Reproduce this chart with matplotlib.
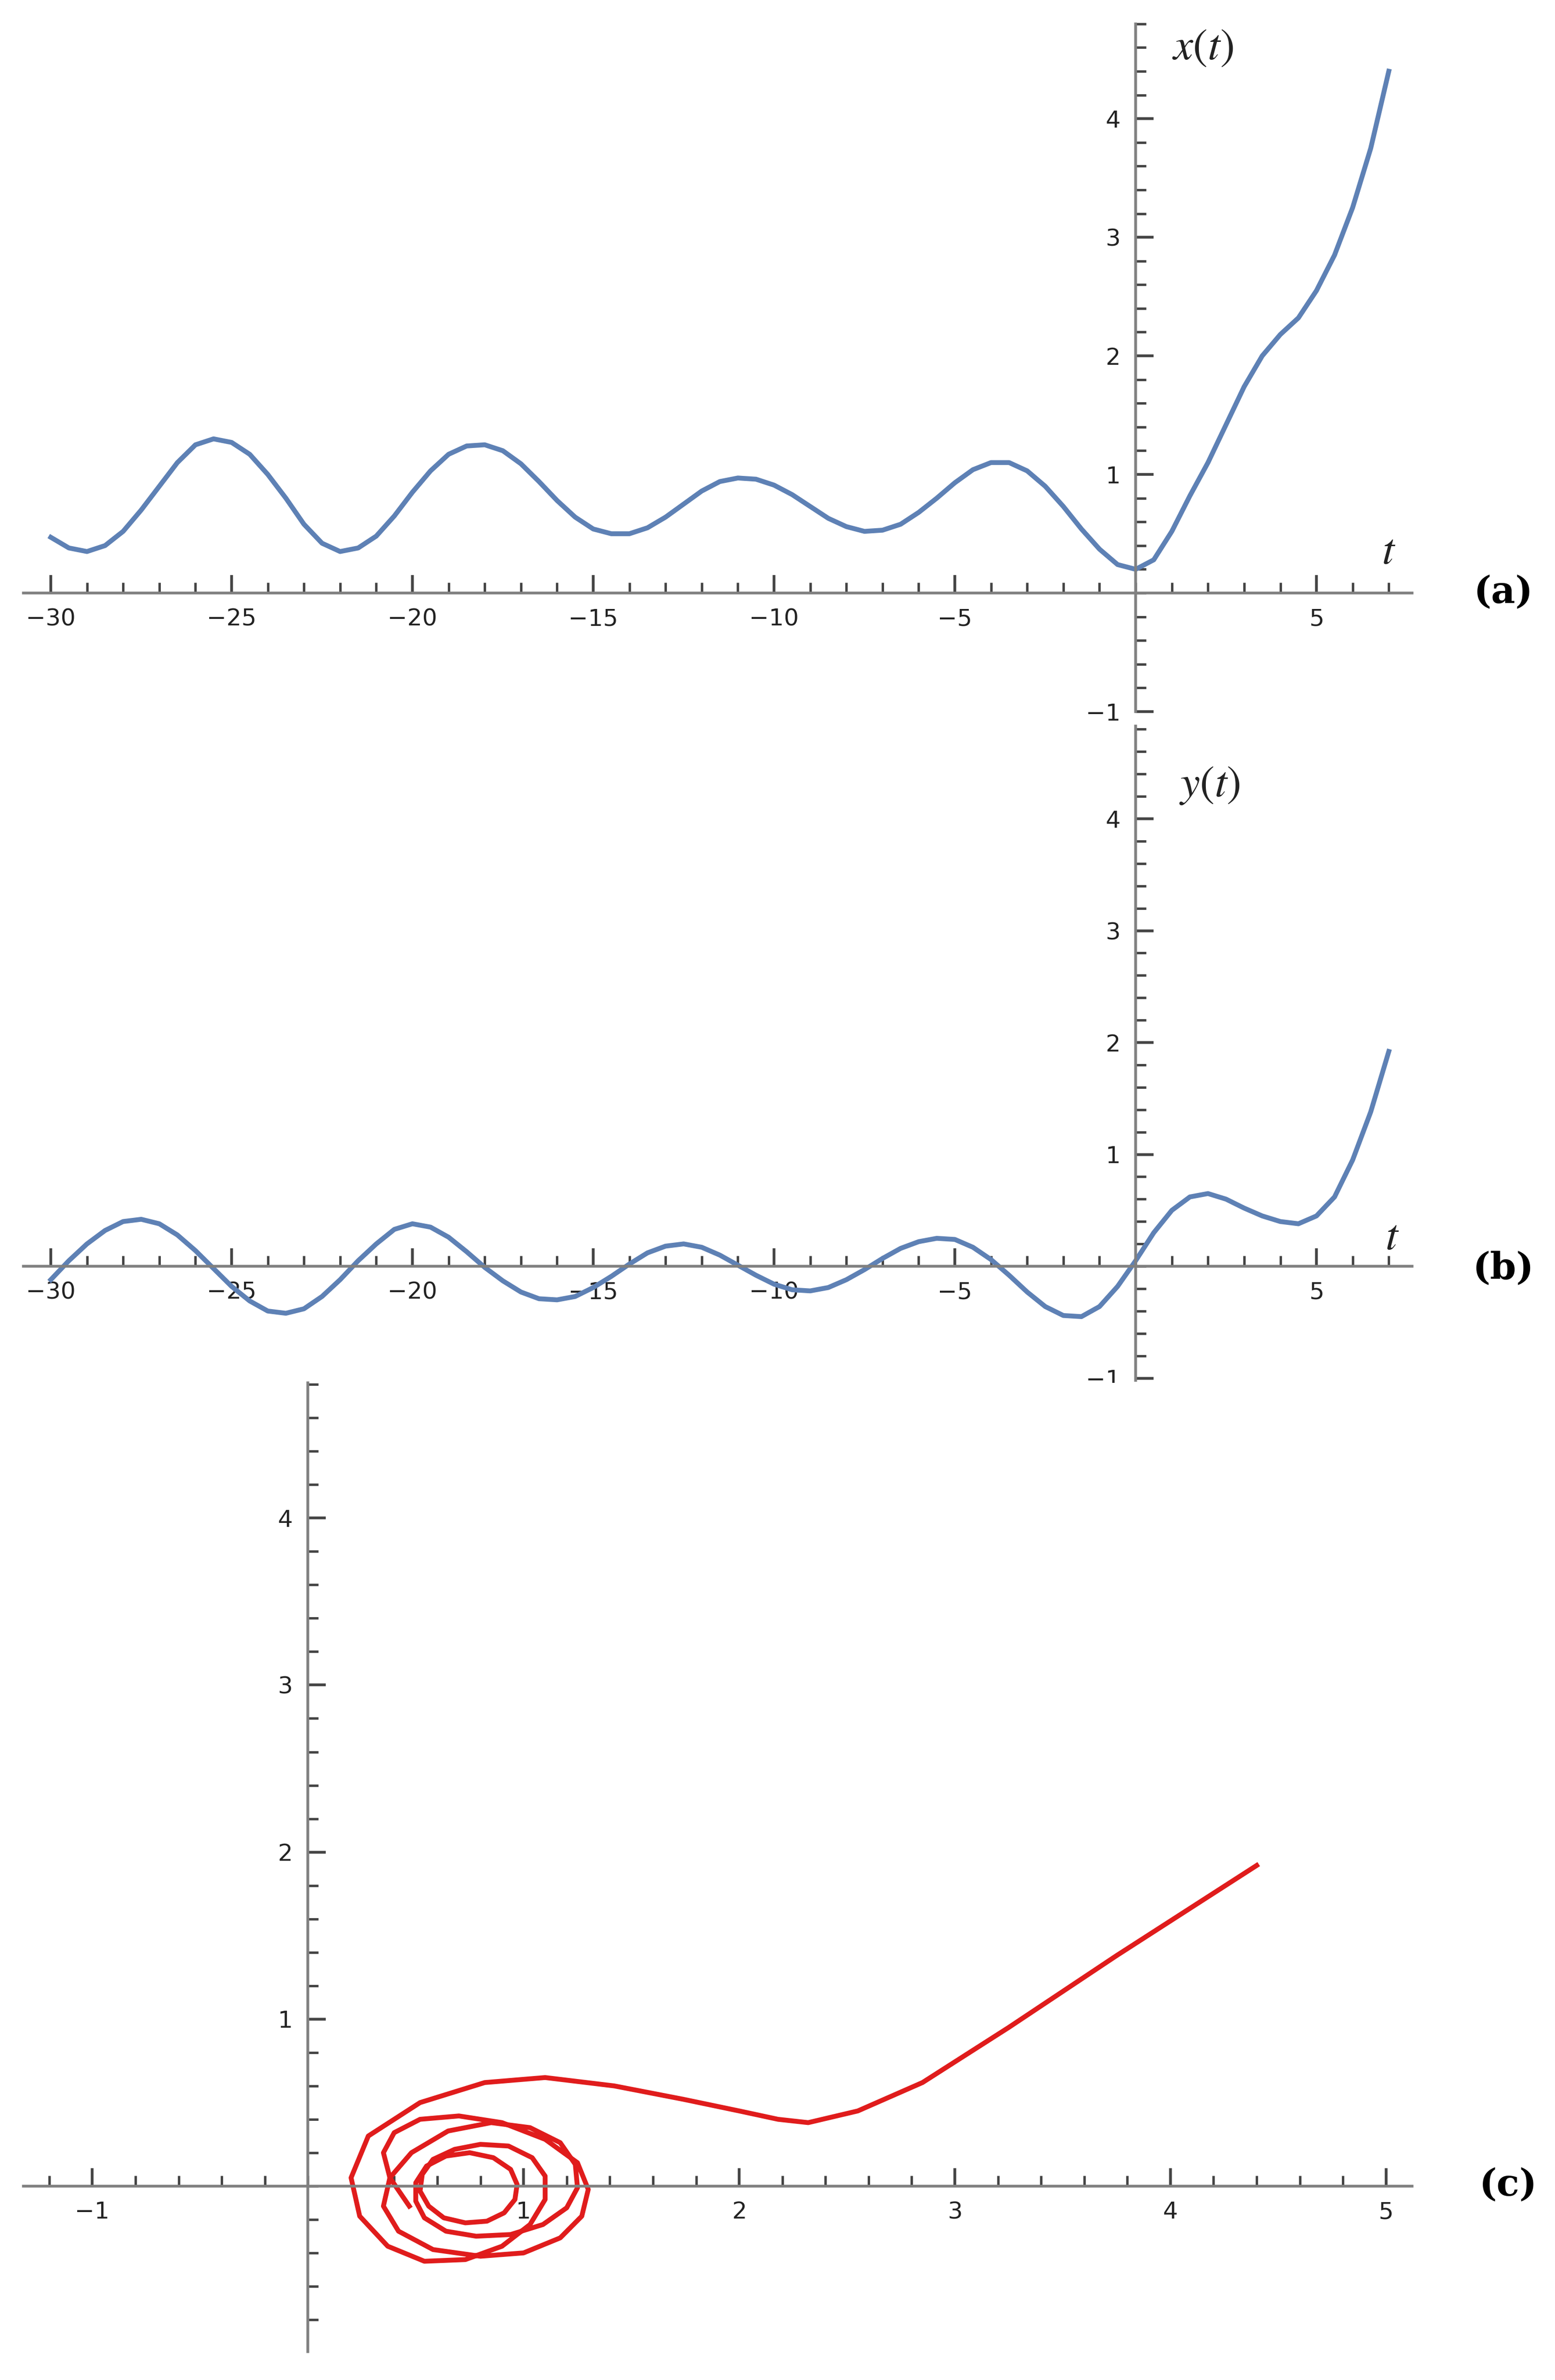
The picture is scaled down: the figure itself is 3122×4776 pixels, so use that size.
import numpy as np
import matplotlib
matplotlib.use("Agg")
import matplotlib.pyplot as plt
from matplotlib.ticker import MultipleLocator

t_vals = [-30 + 0.5 * i for i in range(75)]
x_vals = [0.47, 0.38, 0.35, 0.40, 0.52, 0.70, 0.90, 1.10, 1.25, 1.30, 1.27, 1.17, 1.00, 0.80, 0.58, 0.42,
          0.35, 0.38, 0.48, 0.65, 0.85, 1.03, 1.17, 1.24, 1.25, 1.20, 1.09, 0.94, 0.78, 0.64, 0.54, 0.50,
          0.50, 0.55, 0.64, 0.75, 0.86, 0.94, 0.97, 0.96, 0.91, 0.83, 0.73, 0.63, 0.56, 0.52, 0.53, 0.58,
          0.68, 0.80, 0.93, 1.04, 1.10, 1.10, 1.03, 0.90, 0.73, 0.54, 0.37, 0.24, 0.20, 0.28, 0.52, 0.82,
          1.10, 1.42, 1.74, 2.00, 2.18, 2.32, 2.55, 2.85, 3.25, 3.75, 4.40]
y_vals = [-0.12, 0.05, 0.20, 0.32, 0.40, 0.42, 0.38, 0.28, 0.14, -0.02, -0.18, -0.31, -0.40, -0.42, -0.38,
          -0.27, -0.12, 0.05, 0.20, 0.33, 0.38, 0.35, 0.26, 0.13, -0.01, -0.13, -0.23, -0.29, -0.30, -0.27,
          -0.19, -0.09, 0.02, 0.12, 0.18, 0.20, 0.17, 0.10, 0.01, -0.08, -0.16, -0.21, -0.22, -0.19, -0.12,
          -0.03, 0.07, 0.16, 0.22, 0.25, 0.24, 0.17, 0.06, -0.08, -0.23, -0.36, -0.44, -0.45, -0.36, -0.18,
          0.05, 0.30, 0.50, 0.62, 0.65, 0.60, 0.52, 0.45, 0.40, 0.38, 0.45, 0.62, 0.95, 1.38, 1.92]

BLUE = "#5e81b5"
RED = "#e01c1c"
AX = "#808080"


def style(ax, xlim, ylim, xmaj, xmin, ymaj, ymin):
    ax.set_xlim(*xlim); ax.set_ylim(*ylim)
    for s in ("top", "right"):
        ax.spines[s].set_visible(False)
    ax.spines["left"].set_position(("data", 0))
    ax.spines["bottom"].set_position(("data", 0))
    for s in ("left", "bottom"):
        ax.spines[s].set_color(AX); ax.spines[s].set_linewidth(4)
    ax.xaxis.set_major_locator(MultipleLocator(xmaj))
    ax.xaxis.set_minor_locator(MultipleLocator(xmin))
    ax.yaxis.set_major_locator(MultipleLocator(ymaj))
    ax.yaxis.set_minor_locator(MultipleLocator(ymin))
    ax.tick_params(which="both", direction="in", colors="#444444", labelcolor="#222222",
                   labelsize=34, pad=22)
    ax.tick_params(which="major", length=26, width=4)
    ax.tick_params(which="minor", length=15, width=3.5)
    xt = [v for v in np.arange(np.ceil(xlim[0] / xmaj) * xmaj, xlim[1], xmaj) if abs(v) > 1e-9]
    yt = [v for v in np.arange(np.ceil(ylim[0] / ymaj) * ymaj, ylim[1], ymaj) if abs(v) > 1e-9]
    ax.set_xticks(xt); ax.set_yticks(yt)
    ax.set_xticklabels([f"{v:g}".replace("-", "\u2212") for v in xt])
    ax.set_yticklabels([f"{v:g}".replace("-", "\u2212") for v in yt])


plt.rcParams["font.family"] = ["DejaVu Sans"]
plt.rcParams["mathtext.fontset"] = "stix"
fig = plt.figure(figsize=(31.22, 47.76), dpi=100)

ax1 = fig.add_axes([0.015, 0.701, 0.893, 0.289])
ax1.plot(t_vals, x_vals, color=BLUE, lw=7, solid_joinstyle="round")
style(ax1, (-30.76, 7.64), (-1.0, 4.8), 5, 1, 1, 0.2)
ax1.text(1.0, 4.5, "$x(t)$", fontsize=64, color="#222222")
ax1.text(6.8, 0.25, "$t$", fontsize=64, color="#222222")
fig.text(0.967, 0.751, "(a)", fontsize=54, fontweight="bold", family="DejaVu Serif", ha="center", va="center")

ax2 = fig.add_axes([0.015, 0.420, 0.893, 0.275])
ax2.plot(t_vals, y_vals, color=BLUE, lw=7, solid_joinstyle="round")
style(ax2, (-30.76, 7.64), (-1.02, 4.83), 5, 1, 1, 0.2)
ax2.text(1.2, 4.2, "$y(t)$", fontsize=64, color="#222222")
ax2.text(6.9, 0.15, "$t$", fontsize=64, color="#222222")
fig.text(0.967, 0.467, "(b)", fontsize=54, fontweight="bold", family="DejaVu Serif", ha="center", va="center")

ax3 = fig.add_axes([0.015, 0.012, 0.893, 0.407])
ax3.plot(x_vals, y_vals, color=RED, lw=7, solid_joinstyle="round")
style(ax3, (-1.32, 5.12), (-0.99, 4.81), 1, 0.2, 1, 0.2)
fig.text(0.970, 0.082, "(c)", fontsize=54, fontweight="bold", family="DejaVu Serif", ha="center", va="center")

fig.savefig("out.png", dpi=100)
